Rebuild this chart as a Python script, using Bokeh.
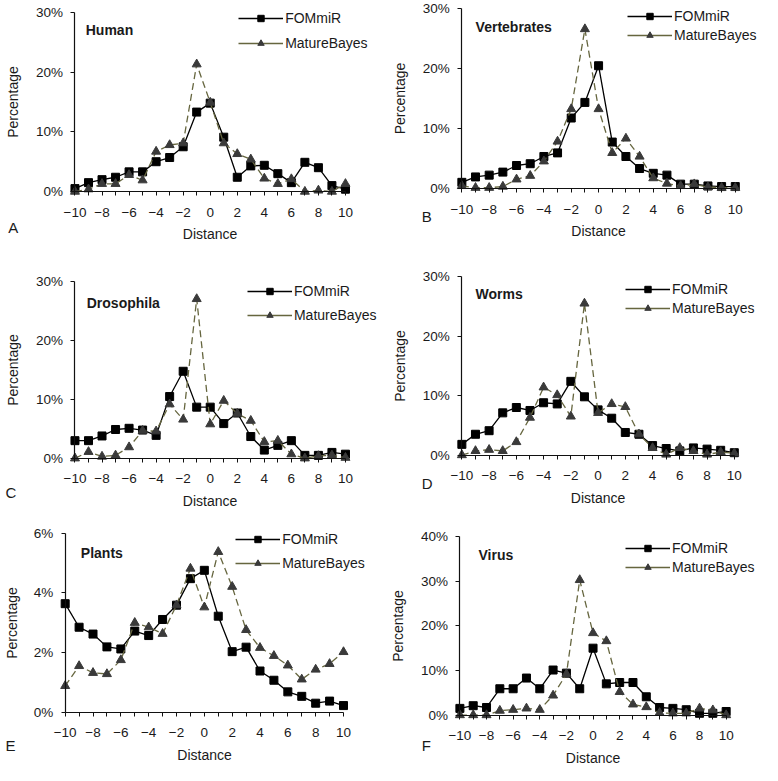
from bokeh.plotting import figure
from bokeh.models import FixedTicker, PrintfTickFormatter, Legend, LegendItem, Label
from bokeh.layouts import column, row
from bokeh.embed import file_html
from bokeh.resources import INLINE

# ---------------- data ----------------
distance = list(range(-10, 11))
x_major_ticks = [-10, -8, -6, -4, -2, 0, 2, 4, 6, 8, 10]
x_minor_ticks = [-9, -7, -5, -3, -1, 1, 3, 5, 7, 9]
series_names = ["FOMmiR", "MatureBayes"]

human_fommir = [0.5, 1.5, 2.0, 2.4, 3.3, 3.3, 5.0, 5.7, 7.5, 13.3, 14.8, 9.1, 2.4, 4.3, 4.4, 3.0, 1.5, 4.9, 4.0, 1.0, 0.4]
human_maturebayes = [0.0, 0.4, 1.3, 1.3, 2.8, 1.9, 6.7, 7.8, 8.1, 21.3, 14.9, 8.1, 6.3, 5.4, 2.2, 1.3, 2.1, 0.0, 0.2, 0.0, 1.3]

vert_fommir = [1.1, 2.0, 2.3, 2.8, 3.9, 4.2, 5.4, 6.0, 11.8, 14.4, 20.5, 7.8, 5.4, 3.4, 2.6, 2.3, 0.8, 0.8, 0.5, 0.4, 0.4]
vert_maturebayes = [0.5, 0.2, 0.2, 0.4, 1.6, 2.2, 4.6, 7.9, 13.3, 26.6, 13.3, 6.0, 8.4, 5.4, 1.8, 0.9, 0.5, 0.8, 0.3, 0.2, 0.2]

dros_fommir = [3.0, 3.0, 3.8, 4.9, 5.1, 4.8, 3.9, 10.5, 14.8, 8.7, 8.7, 5.9, 7.7, 3.7, 1.4, 2.2, 3.0, 0.5, 0.5, 1.0, 0.7]
dros_maturebayes = [0.0, 1.1, 0.3, 0.5, 1.9, 4.7, 4.6, 9.2, 6.6, 27.1, 5.8, 9.8, 7.6, 6.4, 2.8, 3.0, 0.7, 0.0, 0.4, 0.5, 0.1]

worms_fommir = [1.8, 3.5, 4.1, 7.1, 8.0, 7.5, 8.8, 8.6, 12.4, 9.8, 7.6, 6.2, 3.8, 3.5, 1.6, 1.1, 0.7, 1.2, 1.0, 0.8, 0.4]
worms_maturebayes = [0.0, 0.7, 0.9, 0.7, 2.2, 6.3, 11.4, 10.1, 6.5, 25.5, 7.1, 8.6, 8.1, 3.5, 1.2, 0.1, 1.2, 0.7, 0.1, 0.5, 0.3]

plants_fommir = [3.64, 2.85, 2.62, 2.19, 2.12, 2.72, 2.57, 3.11, 3.59, 4.48, 4.76, 3.22, 2.03, 2.18, 1.38, 1.07, 0.68, 0.53, 0.30, 0.37, 0.22]
plants_maturebayes = [0.88, 1.55, 1.32, 1.28, 1.75, 3.00, 2.85, 2.63, 3.59, 4.82, 3.52, 5.38, 4.21, 2.76, 2.16, 1.89, 1.57, 1.10, 1.43, 1.62, 2.02]

virus_fommir = [1.5, 2.1, 1.7, 5.9, 5.9, 8.3, 5.9, 10.1, 9.4, 5.9, 15.0, 7.0, 7.3, 7.3, 4.1, 1.7, 1.5, 1.2, 0.4, 0.4, 0.8]
virus_maturebayes = [0.0, 0.0, 0.0, 1.0, 1.2, 1.5, 1.2, 4.4, 9.2, 30.3, 18.4, 16.6, 5.2, 2.4, 1.8, 0.5, 0.4, 0.4, 1.5, 1.1, 0.0]

panel_titles = ["Human", "Vertebrates", "Drosophila", "Worms", "Plants", "Virus"]
panel_letters = ["A", "B", "C", "D", "E", "F"]
panel_yticks = [[0, 10, 20, 30], [0, 10, 20, 30], [0, 10, 20, 30], [0, 10, 20, 30], [0, 2, 4, 6], [0, 10, 20, 30, 40]]

# ---------------- styling / layout ----------------
FONT = "Liberation Sans"
TXT = "#1a1a1a"
FOM_COLOR = "#000000"
MB_LINE = "#66663f"
MB_MARK = "#3a3a3a"
K = 0.98  # overall scale to fit the 8px page margin

W = 381
ROW_H = [252, 260, 253]

# geometry in reference pixels, local to each panel cell:
# frame (x0, x1, ytop, y0), title offset, letter offset, legend (x, row1, spacing)
geoms = [
    dict(fr=(76, 352, 12, 195), title=(11, 18), letter=(-68, 37), leg=(167, 6, 26)),
    dict(fr=(82, 361, 8.3, 192.3), title=(14, 19), letter=(-41, 28), leg=(169, 8, 19)),
    dict(fr=(76, 352, 30, 210), title=(12, 22), letter=(-71, 35), leg=(176, 9, 25)),
    dict(fr=(82, 360, 24.7, 206.7), title=(14, 18), letter=(-41, 29), leg=(167, 13, 19)),
    dict(fr=(66, 350, 21.3, 203.7), title=(16, 20), letter=(-61, 34), leg=(174, 6, 25)),
    dict(fr=(80, 351.7, 24.7, 206.7), title=(19, 19), letter=(-39, 31), leg=(169, 12, 19)),
]


def make_panel(i, H, fom, mb):
    g = geoms[i]
    yt = panel_yticks[i]
    ymax = yt[-1]
    x0, x1, ytop, y0 = [v * K for v in g["fr"]]
    ppx = (x1 - x0) / 20.0
    ppy = (y0 - ytop) / float(ymax)
    xr = (-10 - x0 / ppx, 10 + (W - x1) / ppx)
    yr = (-(H - y0) / ppy, ymax + ytop / ppy)
    p = figure(width=W, height=H, x_range=xr, y_range=yr,
               output_backend="svg", toolbar_location=None,
               min_border_left=0, min_border_right=0, min_border_top=0, min_border_bottom=0)
    p.outline_line_color = None
    p.xgrid.visible = False
    p.ygrid.visible = False

    # axes drawn at x=-10 and y=0
    p.xaxis.fixed_location = 0
    p.yaxis.fixed_location = -10
    p.xaxis.bounds = (-10, 10)
    p.yaxis.bounds = (0, ymax)
    p.xaxis.ticker = FixedTicker(ticks=x_major_ticks, minor_ticks=x_minor_ticks)
    p.yaxis.ticker = FixedTicker(ticks=yt, minor_ticks=[])
    p.yaxis.formatter = PrintfTickFormatter(format="%d%%")
    for ax in (p.xaxis[0], p.yaxis[0]):
        ax.axis_line_color = "#111111"
        ax.axis_line_width = 1.2
        ax.major_tick_line_color = "#111111"
        ax.minor_tick_line_color = "#111111"
        ax.major_tick_in = 0
        ax.major_tick_out = 4
        ax.minor_tick_in = 0
        ax.minor_tick_out = 0
        ax.major_label_text_font = FONT
        ax.major_label_text_font_size = "13.5px"
        ax.major_label_text_color = TXT
        ax.axis_label_text_font = FONT
        ax.axis_label_text_font_size = "14px"
        ax.axis_label_text_font_style = "normal"
        ax.axis_label_text_color = TXT
    p.xaxis.minor_tick_out = 4
    p.xaxis.axis_label = "Distance"
    p.yaxis.axis_label = "Percentage"
    p.xaxis.major_label_standoff = 12
    p.xaxis.axis_label_standoff = 6
    p.yaxis.major_label_standoff = 8
    p.yaxis.axis_label_standoff = 11

    # series
    l1 = p.line(distance, fom, line_color=FOM_COLOR, line_width=1.3)
    m1 = p.scatter(distance, fom, marker="square", size=8, fill_color=FOM_COLOR, line_color=FOM_COLOR)
    l2 = p.line(distance, mb, line_color=MB_LINE, line_width=1.3, line_dash="7 4")
    m2 = p.scatter(distance, mb, marker="triangle", size=9, fill_color=MB_MARK, line_color=MB_MARK)
    # one-point line: draws nothing, only gives the legend a solid sample
    l2_leg = p.line(x=distance[:1], y=mb[:1], line_color=MB_LINE, line_width=1.3)

    # legend
    lx, r1, s = [v * K for v in g["leg"]]
    gh = 16
    ly = H - (ytop + r1 - gh / 2) - (gh + s)
    legend = Legend(items=[LegendItem(label=series_names[0], renderers=[l1, m1]),
                           LegendItem(label=series_names[1], renderers=[l2_leg, m2])],
                    location=(x0 + lx, ly), padding=0, margin=0, spacing=int(round(s - gh)),
                    glyph_width=45, glyph_height=gh, label_height=gh, label_standoff=2,
                    label_text_font=FONT, label_text_font_size="14px", label_text_color=TXT,
                    border_line_color=None, background_fill_alpha=0)
    p.add_layout(legend)

    tx, ty = [v * K for v in g["title"]]
    p.add_layout(Label(x=-10 + tx / ppx, y=ymax - ty / ppy, text=panel_titles[i],
                       text_font=FONT, text_font_size="14px", text_font_style="bold",
                       text_color=TXT, text_baseline="middle", text_align="left"))
    lxl, lyl = [v * K for v in g["letter"]]
    p.add_layout(Label(x=-10 + lxl / ppx, y=-lyl / ppy, text=panel_letters[i],
                       text_font=FONT, text_font_size="15px", text_color=TXT,
                       text_baseline="middle", text_align="left"))
    return p


pA = make_panel(0, ROW_H[0], human_fommir, human_maturebayes)
pB = make_panel(1, ROW_H[0], vert_fommir, vert_maturebayes)
pC = make_panel(2, ROW_H[1], dros_fommir, dros_maturebayes)
pD = make_panel(3, ROW_H[1], worms_fommir, worms_maturebayes)
pE = make_panel(4, ROW_H[2], plants_fommir, plants_maturebayes)
pF = make_panel(5, ROW_H[2], virus_fommir, virus_maturebayes)

layout = column(row(pA, pB), row(pC, pD), row(pE, pF))
open("out.html", "w").write(file_html(layout, INLINE))
